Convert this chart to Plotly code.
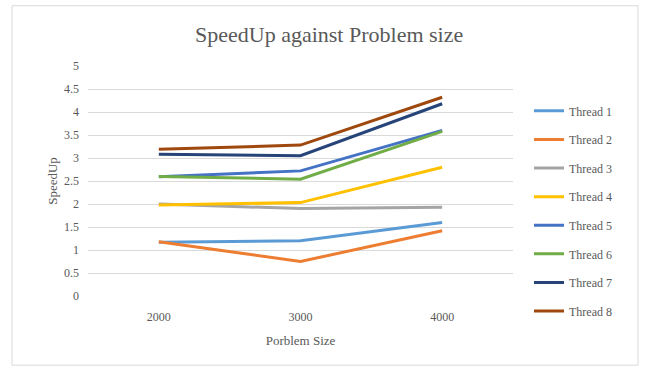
import plotly.graph_objects as go

# Speed-up measured for each thread count at three problem sizes
problem_sizes = ["2000", "3000", "4000"]
thread_names = ["Thread 1", "Thread 2", "Thread 3", "Thread 4",
                "Thread 5", "Thread 6", "Thread 7", "Thread 8"]
thread1 = [1.17, 1.20, 1.60]
thread2 = [1.18, 0.75, 1.42]
thread3 = [2.00, 1.90, 1.93]
thread4 = [1.98, 2.03, 2.80]
thread5 = [2.59, 2.72, 3.60]
thread6 = [2.60, 2.54, 3.58]
thread7 = [3.08, 3.05, 4.18]
thread8 = [3.19, 3.28, 4.32]
series = [thread1, thread2, thread3, thread4, thread5, thread6, thread7, thread8]
colors = ["#5B9BD5", "#ED7D31", "#A5A5A5", "#FFC000",
          "#4472C4", "#70AD47", "#264478", "#9E480E"]

W, H = 651, 369
L, R, T, B = 88, 513, 65.5, 296.5  # plot area in pixels
FONT = "Liberation Serif"
GRAY = "#595959"

fig = go.Figure()
for name, vals, col in zip(thread_names, series, colors):
    fig.add_trace(go.Scatter(
        x=problem_sizes, y=vals, name=name, mode="lines",
        line=dict(color=col, width=3), legendgroup=name,
    ))


def px_x(p):
    return (p - L) / (R - L)


def px_y(p):
    return (B - p) / (B - T)


fig.update_layout(
    width=W, height=H,
    margin=dict(l=L, r=W - R, t=T, b=H - B, pad=0),
    paper_bgcolor="white", plot_bgcolor="white",
    font=dict(family=FONT, color=GRAY, size=12),
    showlegend=True,
    legend=dict(
        x=px_x(529), y=px_y(96), xanchor="left", yanchor="top",
        font=dict(family=FONT, size=12, color=GRAY),
        tracegroupgap=9.6, itemwidth=30, bgcolor="rgba(0,0,0,0)",
    ),
    xaxis=dict(
        type="category", range=[-0.5, 2.5], showgrid=False, zeroline=False,
        showline=False, ticks="", tickfont=dict(size=12, color=GRAY),
        ticklabelstandoff=12,
        title=dict(text="Porblem Size", font=dict(size=13, color=GRAY), standoff=12),
    ),
    yaxis=dict(
        range=[0, 5], dtick=0.5, tick0=0, showgrid=True, gridcolor="#D9D9D9",
        gridwidth=1, zeroline=False, showline=False, ticks="",
        tickfont=dict(size=12, color=GRAY), ticklabelstandoff=8,
        title=dict(text="SpeedUp", font=dict(size=13, color=GRAY), standoff=3),
    ),
    annotations=[dict(
        text="SpeedUp against Problem size", xref="paper", yref="paper",
        x=px_x(329), y=px_y(34), xanchor="center", yanchor="middle",
        showarrow=False, font=dict(family=FONT, size=22, color=GRAY),
    )],
    shapes=[dict(
        type="rect", xref="paper", yref="paper",
        x0=px_x(12), x1=px_x(638), y0=px_y(5), y1=px_y(366),
        line=dict(color="#D9D9D9", width=1), layer="below",
    )],
)

fig.write_html("out.html")
